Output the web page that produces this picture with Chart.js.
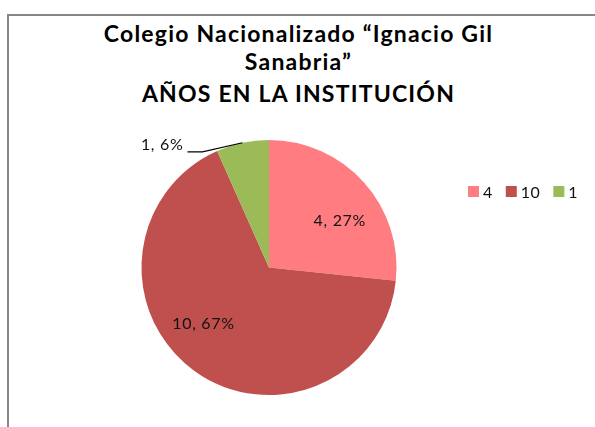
<!DOCTYPE html>
<html>
<head>
<meta charset="utf-8">
<title>Años en la institución</title>
<script src="https://cdn.jsdelivr.net/npm/chart.js@4.4.1/dist/chart.umd.min.js"></script>
<style>
    html, body { margin: 0; padding: 0; background: #fff; overflow: hidden; }
    #wrap { position: relative; width: 595px; height: 427px; overflow: hidden; }
    #frame { position: absolute; left: 7px; top: 14px; width: 640px; height: 480px; border: 2px solid #878787; }
    .title { position: absolute; left: 0; width: 597px; text-align: center; font-family: Lato, sans-serif;
             font-weight: bold; font-size: 23px; letter-spacing: 1.2px; line-height: 28px; color: #000; white-space: nowrap; }
    canvas { position: absolute; left: 0; top: 0; }
</style>
</head>
<body>
<div id="wrap">
    <div id="frame"></div>
    <div class="title" style="top:19px">Colegio Nacionalizado “Ignacio Gil</div>
    <div class="title" style="top:47px">Sanabria”</div>
    <div class="title" style="top:79px">AÑOS EN LA INSTITUCIÓN</div>
    <canvas id="pieChart" width="595" height="427"></canvas>
</div>
<script>
// values
const categories = ['4', '10', '1'];
const counts = [4, 10, 1];
const percents = [27, 67, 6];

const sliceColors = ['#FF7C80', '#C0504D', '#9BBB59'];

// "label, pct%" on each slice, the small one outside with a leader line
const sliceLabels = {
    id: 'sliceLabels',
    afterDatasetsDraw(chart, args, opts) {
        const ctx = chart.ctx;
        const meta = chart.getDatasetMeta(0);
        ctx.save();
        ctx.font = opts.font;
        ctx.letterSpacing = opts.spacing;
        ctx.fillStyle = opts.color;
        meta.data.forEach(function(arc, i) {
            const text = chart.data.labels[i] + ', ' + percents[i] + '%';
            const p = arc.getProps(['x', 'y', 'startAngle', 'endAngle', 'outerRadius'], true);
            const mid = (p.startAngle + p.endAngle) / 2;
            if (opts.outside[i]) {
                const px = p.x + Math.cos(mid) * p.outerRadius;
                const py = p.y + Math.sin(mid) * p.outerRadius;
                const ex = px + opts.elbow[0];
                const ey = py + opts.elbow[1];
                const tx = ex - opts.tail;
                ctx.strokeStyle = '#000';
                ctx.lineWidth = 1.2;
                ctx.beginPath();
                ctx.moveTo(px, py);
                ctx.lineTo(ex, ey);
                ctx.lineTo(tx, ey);
                ctx.stroke();
                ctx.textAlign = 'right';
                ctx.textBaseline = 'alphabetic';
                ctx.fillText(text, tx - 4, ey - 1.5);
            } else {
                const a = mid + opts.shift[i] * Math.PI / 180;
                const d = p.outerRadius * opts.radius;
                ctx.textAlign = 'center';
                ctx.textBaseline = 'middle';
                ctx.fillText(text, p.x + Math.cos(a) * d, p.y + Math.sin(a) * d + 1);
            }
        });
        ctx.restore();
    }
};

// legend in one row to the right of the pie
const rowLegend = {
    id: 'rowLegend',
    afterDraw(chart, args, opts) {
        const ctx = chart.ctx;
        const ds = chart.data.datasets[0];
        let x = opts.x;
        ctx.save();
        ctx.font = opts.font;
        ctx.letterSpacing = '0.5px';
        ctx.textAlign = 'left';
        ctx.textBaseline = 'alphabetic';
        chart.data.labels.forEach(function(lab, i) {
            ctx.fillStyle = ds.backgroundColor[i];
            ctx.fillRect(x, opts.y, opts.box, opts.box);
            x += opts.box + opts.gap;
            ctx.fillStyle = opts.color;
            ctx.fillText(lab, x, opts.y + opts.box + 0.5);
            x += ctx.measureText(lab).width + opts.spacing;
        });
        ctx.restore();
    }
};

const ctx = document.getElementById('pieChart').getContext('2d');
const pieChart = new Chart(ctx, {
    type: 'pie',
    data: {
        labels: categories,
        datasets: [{
            data: counts,
            backgroundColor: sliceColors,
            borderWidth: 0,
            hoverOffset: 0
        }]
    },
    options: {
        responsive: false,
        animation: false,
        events: [],
        layout: {
            padding: { top: 140, bottom: 32, left: 0, right: 57 }
        },
        plugins: {
            legend: { display: false },
            tooltip: { enabled: false },
            sliceLabels: {
                font: '16px Lato, sans-serif',
                spacing: '0.7px',
                color: '#111',
                radius: 0.67,
                shift: [8, 14, 0],
                outside: [false, false, true],
                elbow: [-40, 9],
                tail: 15
            },
            rowLegend: {
                x: 468,
                y: 186,
                box: 11,
                gap: 4,
                spacing: 13,
                font: '16px Lato, sans-serif',
                color: '#111'
            }
        }
    },
    plugins: [sliceLabels, rowLegend]
});
</script>
</body>
</html>
